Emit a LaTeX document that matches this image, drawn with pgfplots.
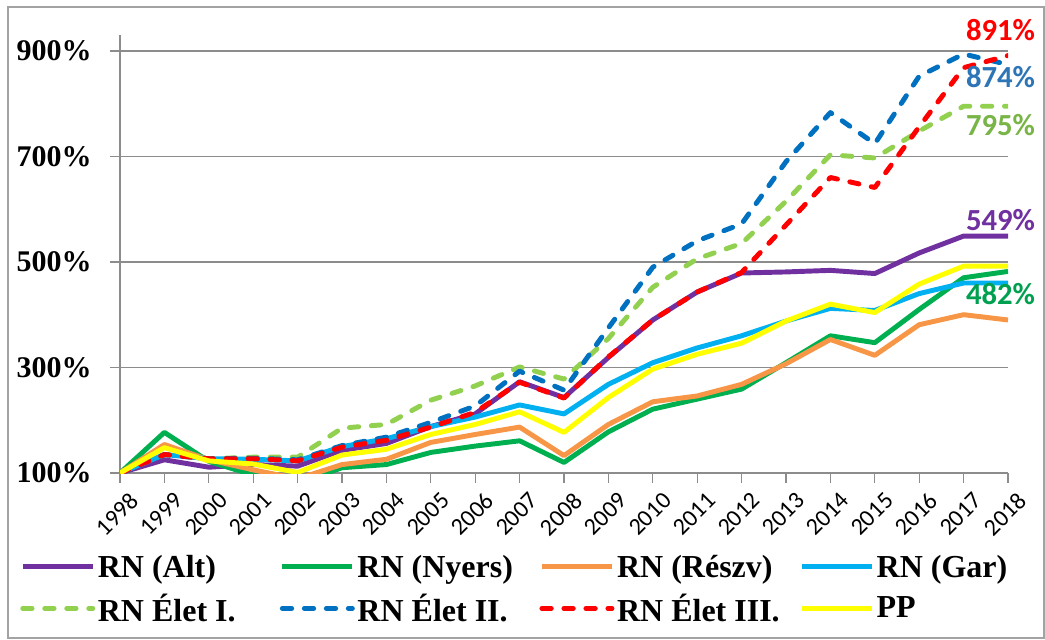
\documentclass[border=0pt]{standalone}
\usepackage{pgfplots}
\pgfplotsset{compat=1.18}
\usepackage{fontspec}
\setmainfont{Liberation Serif}
\newfontfamily\calibri{Carlito}
\newcommand\xl[1]{{\calibri\fontsize{18}{18}\selectfont #1}}
\newcommand\yl[1]{{\fontsize{22.5}{24}\selectfont\bfseries #1\%}}
\definecolor{cAlt}{HTML}{7030A0}
\definecolor{cNy}{HTML}{00B050}
\definecolor{cRe}{HTML}{F79646}
\definecolor{cGar}{HTML}{00B0F0}
\definecolor{cE1}{HTML}{92D050}
\definecolor{cE2}{HTML}{0070C0}
\definecolor{cE3}{HTML}{FF0000}
\definecolor{cPP}{HTML}{FFFF00}
\definecolor{axisgray}{HTML}{8C8C8C}
\definecolor{lE2}{HTML}{2E75B6}
\definecolor{lE1}{HTML}{78B446}
\definecolor{lNy}{HTML}{00A050}
\pgfplotstableread{
year Alt Ny Re Gar E1 E2 E3 PP
1998 100 100 100 100 100 100 100 100
1999 125 177 154 135 135 135 135 148
2000 111 122 125 127 127 127 127 123
2001 116 96 106 126 130 128 127 117
2002 113 80 89 123 130 125 123 101
2003 143 110 116 150 185 152 149 134
2004 156 116 126 165 192 168 162 145
2005 188 139 158 188 238 196 187 173
2006 212 151 173 206 265 227 215 192
2007 273 161 187 229 301 293 272 216
2008 243 120 133 212 278 257 242 177
2009 319 178 192 268 355 375 320 243
2010 390 221 235 309 452 490 390 297
2011 443 240 246 337 506 540 443 325
2012 479 259 268 360 535 572 480 346
2013 481 309 307 388 615 690 570 388
2014 484 360 353 412 703 783 660 420
2015 478 347 323 408 697 724 641 404
2016 517 410 381 440 748 852 756 458
2017 549 470 400 460 795 894 868 492
2018 549 482 390 460 795 874 891 492
}\datatable
\begin{document}
\begin{tikzpicture}
\useasboundingbox (0pt,0pt) rectangle (783.75pt,-479.25pt);
\draw[axisgray!80, line width=0.8pt] (6pt,-5.25pt) rectangle (783pt,-478.5pt);
\begin{axis}[
  at={(90pt,-354.75pt)}, anchor=south west,
  scale only axis, width=666pt, height=328.5pt,
  xmin=1998, xmax=2018, ymin=100, ymax=930,
  axis lines=left, axis line style={-, draw=axisgray, line width=1pt},
  xtick={1998,1999,2000,2001,2002,2003,2004,2005,2006,2007,2008,2009,2010,2011,2012,2013,2014,2015,2016,2017,2018},
  xticklabels={\xl{1998},\xl{1999},\xl{2000},\xl{2001},\xl{2002},\xl{2003},\xl{2004},\xl{2005},\xl{2006},\xl{2007},\xl{2008},\xl{2009},\xl{2010},\xl{2011},\xl{2012},\xl{2013},\xl{2014},\xl{2015},\xl{2016},\xl{2017},\xl{2018}},
  ytick={100,300,500,700,900},
  yticklabels={\yl{100},\yl{300},\yl{500},\yl{700},\yl{900}},
  ymajorgrids, grid style={draw=axisgray, line width=1pt},
  tick align=outside, major tick length=7.5pt,
  tick style={draw=axisgray, line width=1pt},
  yticklabel style={anchor=east, inner sep=0pt, xshift=-13.5pt},
  xticklabel style={rotate=45, anchor=east, inner sep=0pt, yshift=-15pt, xshift=0.5pt},
  clip mode=individual,
  legend columns=4,
  legend cell align=left,
  legend style={at={(axis description cs:-0.1126,-0.2648)}, anchor=west, draw=none, fill=none, inner sep=0pt,
    font=\fontsize{24}{24}\selectfont\bfseries, nodes={inner sep=0pt}, row sep=11pt,
    /tikz/every odd column/.append style={column sep=2pt}},
  legend image code/.code={\draw[#1] (0pt,0pt) -- (52.5pt,0pt);},
  every axis plot/.append style={line width=3.7pt, line join=round},
  dashstyle/.style={dash pattern=on 7pt off 9.5pt, line cap=round},
]
\addplot[cAlt] table[x=year,y=Alt]{\datatable};
\addlegendentry{\makebox[136.5pt][l]{RN (Alt)}}
\addplot[cNy] table[x=year,y=Ny]{\datatable};
\addlegendentry{\makebox[136.5pt][l]{RN (Nyers)}}
\addplot[cRe] table[x=year,y=Re]{\datatable};
\addlegendentry{\makebox[136.5pt][l]{RN (Részv)}}
\addplot[cGar] table[x=year,y=Gar]{\datatable};
\addlegendentry{\makebox[136.5pt][l]{RN (Gar)}}
\addplot[cE1, dashstyle] table[x=year,y=E1]{\datatable};
\addlegendentry{\makebox[136.5pt][l]{RN Élet I.}}
\addplot[cE2, dashstyle] table[x=year,y=E2]{\datatable};
\addlegendentry{\makebox[136.5pt][l]{RN Élet II.}}
\addplot[cE3, dashstyle] table[x=year,y=E3]{\datatable};
\addlegendentry{\makebox[136.5pt][l]{RN Élet III.}}
\addplot[cPP] table[x=year,y=PP]{\datatable};
\addlegendentry{\makebox[136.5pt][l]{PP}}
\begin{scope}[every node/.style={anchor=west, inner sep=0pt, font=\calibri\fontsize{23}{24}\selectfont\bfseries}]
\node[text=cE3] at (axis cs:2017.05,940) {891\%};
\node[text=lE2] at (axis cs:2017.05,851) {874\%};
\node[text=lE1] at (axis cs:2017.05,760) {795\%};
\node[text=cAlt] at (axis cs:2017.05,579) {549\%};
\node[text=lNy] at (axis cs:2017.05,439) {482\%};
\end{scope}
\end{axis}
\end{tikzpicture}
\end{document}
